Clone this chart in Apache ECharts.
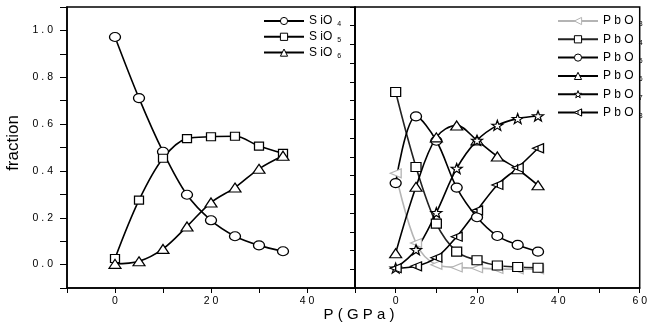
<!DOCTYPE html>
<html>
<head>
<meta charset="utf-8">
<script src="https://cdn.jsdelivr.net/npm/echarts@6/dist/echarts.min.js"></script>
<style>html,body{margin:0;padding:0;background:#fff;}#c{width:650px;height:324px;}</style>
</head>
<body>
<div id="c"></div>
<script>
// pressure (GPa)
const pressure = [0, 5, 10, 15, 20, 25, 30, 35];
// left panel: Si coordination fractions
const SiO4 = [0.972, 0.711, 0.482, 0.298, 0.189, 0.121, 0.082, 0.057];
const SiO5 = [0.026, 0.275, 0.454, 0.538, 0.546, 0.548, 0.506, 0.475];
const SiO6 = [0.003, 0.014, 0.067, 0.163, 0.265, 0.329, 0.409, 0.465];
// right panel: Pb coordination fractions
const PbO3 = [0.256, 0.070, 0.012, 0.005, 0.003, 0.001, 0.000, 0.000];
const PbO4 = [0.473, 0.273, 0.122, 0.047, 0.024, 0.010, 0.006, 0.004];
const PbO5 = [0.230, 0.408, 0.343, 0.218, 0.139, 0.089, 0.065, 0.047];
const PbO6 = [0.043, 0.220, 0.352, 0.384, 0.344, 0.301, 0.267, 0.224];
const PbO7 = [0.003, 0.052, 0.151, 0.269, 0.344, 0.384, 0.402, 0.409];
const PbO8 = [0.003, 0.008, 0.031, 0.087, 0.157, 0.225, 0.271, 0.323];
// tick labels
const leftYLabels = ['0.0', '0.2', '0.4', '0.6', '0.8', '1.0'];
const leftXLabels = ['0', '20', '40'];
const rightXLabels = ['0', '20', '40', '60'];

const FONT = 'Liberation Sans, Arial, Helvetica, sans-serif';
const spaced = s => s.split('').join(' ');

const STAR = 'path://M10,0 L12.35,6.76 L19.51,6.91 L13.80,11.24 L15.88,18.09 L10,14 L4.12,18.09 L6.20,11.24 L0.49,6.91 L7.65,6.76 Z';
const LTRI = 'path://M0,5 L10,0 L10,10 Z';
const LTRIBAR = 'path://M0,5 L10,0 L10,10 Z M5,2.5 L5,7.5 M10,0 L10,10';

function pairs(arr) { return pressure.map((p, i) => [p, arr[i]]); }

function mk(name, arr, grid, symbol, size, color, lineColor) {
  return {
    name: name, type: 'line', xAxisIndex: grid, yAxisIndex: grid,
    data: pairs(arr), smooth: 0.35, symbol: symbol, symbolSize: size,
    showAllSymbol: true,
    lineStyle: { color: lineColor || color, width: 1.6 },
    itemStyle: { color: '#fff', borderColor: color, borderWidth: 1.2 },
    emphasis: { disabled: true }, animation: false
  };
}

const legendRich = {
  m: { fontSize: 12, fontFamily: FONT, color: '#000', lineHeight: 14 },
  s: { fontSize: 7, fontFamily: FONT, color: '#000', padding: [7, 0, 0, 5], lineHeight: 7 }
};
function legendFmt(name) {
  const base = name.slice(0, -1), sub = name.slice(-1);
  const b = base === 'SiO' ? 'S iO' : 'P b O';
  return '{m|' + b + '}{s|' + sub + '}';
}
function legendItem(name, color) {
  return { name: name, itemStyle: { color: '#fff', borderColor: color, borderWidth: 1 } };
}

const axisLineStyle = { color: '#000', width: 1.5 };

const option = {
  backgroundColor: '#fff',
  animation: false,
  grid: [
    { left: 67, top: 7, width: 288, height: 281, show: true, borderColor: '#000', borderWidth: 1.5, containLabel: false },
    { left: 355, top: 7, width: 288, height: 281, show: true, borderColor: '#000', borderWidth: 1.5, containLabel: false }
  ],
  xAxis: [
    { type: 'value', gridIndex: 0, min: -10, max: 50, interval: 10,
      axisLine: { show: true, onZero: false, lineStyle: axisLineStyle }, axisTick: { show: true, length: 5, lineStyle: { color: '#000' } },
      splitLine: { show: false },
      axisLabel: { color: '#000', fontSize: 10.5, fontFamily: FONT, margin: 8,
        formatter: v => leftXLabels.indexOf(String(Math.round(v))) >= 0 ? spaced(String(Math.round(v))) : '' } },
    { type: 'value', gridIndex: 1, min: -10, max: 60, interval: 10,
      axisLine: { show: true, onZero: false, lineStyle: axisLineStyle }, axisTick: { show: true, length: 5, lineStyle: { color: '#000' } },
      splitLine: { show: false },
      axisLabel: { color: '#000', fontSize: 10.5, fontFamily: FONT, margin: 8, showMaxLabel: true,
        formatter: v => rightXLabels.indexOf(String(Math.round(v))) >= 0 ? spaced(String(Math.round(v))) : '' } }
  ],
  yAxis: [
    { type: 'value', gridIndex: 0, min: -0.1, max: 1.1, interval: 0.1,
      axisLine: { show: true, onZero: false, lineStyle: axisLineStyle }, axisTick: { show: true, length: 7, lineStyle: { color: '#000' } },
      splitLine: { show: false },
      axisLabel: { color: '#000', fontSize: 10.5, fontFamily: FONT, margin: 14,
        formatter: v => { const s = (Math.round(v * 10) / 10).toFixed(1); return leftYLabels.indexOf(s) >= 0 ? spaced(s) : ''; } } },
    { type: 'value', gridIndex: 1, min: -0.05, max: 0.7, interval: 0.05,
      axisLine: { show: true, onZero: false, lineStyle: axisLineStyle }, axisTick: { show: true, length: 5, lineStyle: { color: '#000' } },
      splitLine: { show: false }, axisLabel: { show: false } }
  ],
  legend: [
    { data: [legendItem('SiO4', '#000'), legendItem('SiO5', '#000'), legendItem('SiO6', '#000')],
      left: 258, top: 9, orient: 'vertical',
      itemWidth: 40, itemHeight: 9, itemGap: 1.8, formatter: legendFmt,
      textStyle: { rich: legendRich }, selectedMode: false },
    { data: [legendItem('PbO3', '#b4b4b4'), legendItem('PbO4', '#000'), legendItem('PbO5', '#000'),
             legendItem('PbO6', '#000'), legendItem('PbO7', '#000'), legendItem('PbO8', '#000')],
      left: 552, top: 9, orient: 'vertical',
      itemWidth: 40, itemHeight: 9, itemGap: 4.3, formatter: legendFmt,
      textStyle: { rich: legendRich }, selectedMode: false }
  ],
  graphic: [
    { type: 'text', x: 13, y: 143, rotation: Math.PI / 2,
      style: { text: 'fraction', font: '17px ' + FONT, fill: '#000', textAlign: 'center', textVerticalAlign: 'middle' } },
    { type: 'text', x: 359, y: 315,
      style: { text: 'P ( G P a )', font: '15px ' + FONT, fill: '#000', textAlign: 'center', textVerticalAlign: 'middle' } }
  ],
  series: [
    mk('SiO4', SiO4, 0, 'circle', [11, 9], '#000'),
    mk('SiO5', SiO5, 0, 'rect', [9, 8], '#000'),
    mk('SiO6', SiO6, 0, 'triangle', [12, 9], '#000'),
    mk('PbO3', PbO3, 1, LTRI, [11, 9], '#b4b4b4'),
    mk('PbO4', PbO4, 1, 'rect', [10, 9], '#000', '#222'),
    mk('PbO5', PbO5, 1, 'circle', [11, 9], '#000'),
    mk('PbO6', PbO6, 1, 'triangle', [12, 9], '#000'),
    mk('PbO7', PbO7, 1, STAR, [11, 10], '#000'),
    mk('PbO8', PbO8, 1, LTRIBAR, [11, 9], '#000')
  ]
};

const chart = echarts.init(document.getElementById('c'), null, { renderer: 'canvas' });
chart.setOption(option);
</script>
</body>
</html>
